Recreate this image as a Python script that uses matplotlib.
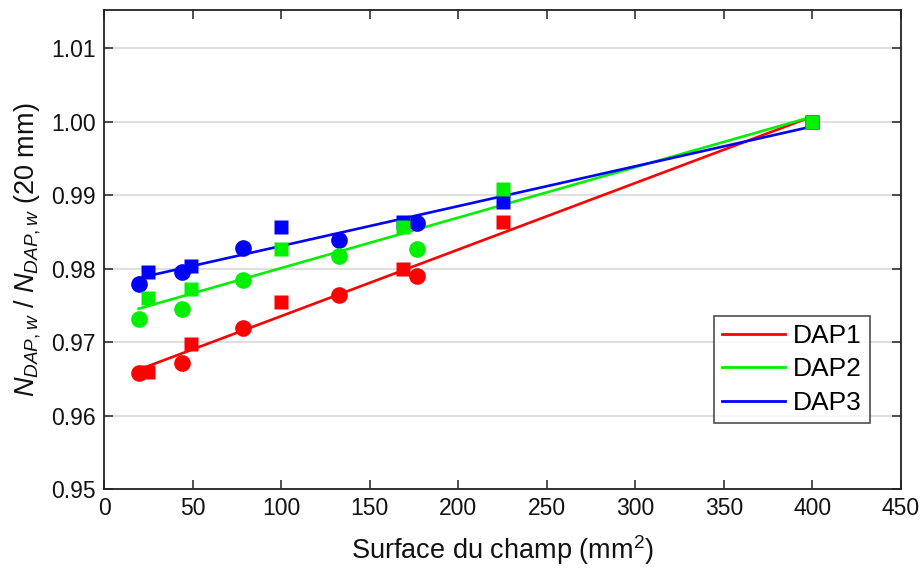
import numpy as np
import matplotlib
matplotlib.use("Agg")
import matplotlib.pyplot as plt

plt.rcParams['font.family'] = ['Liberation Sans', 'DejaVu Sans']
plt.rcParams['mathtext.fontset'] = 'custom'
plt.rcParams['mathtext.rm'] = 'Liberation Sans'
plt.rcParams['mathtext.it'] = 'Liberation Sans:italic'
plt.rcParams['mathtext.bf'] = 'Liberation Sans:bold'

# Field areas (mm^2)
x_circle = [19.6, 44.2, 78.5, 132.7, 176.7]
x_square = [25, 49, 100, 169, 225, 400]

# DAP1
dap1_circle = [0.9658, 0.9672, 0.9719, 0.9764, 0.9790]
dap1_square = [0.9659, 0.9697, 0.9755, 0.9800, 0.9864, 1.0000]
# DAP2
dap2_circle = [0.9731, 0.9745, 0.9784, 0.9817, 0.9827]
dap2_square = [0.9760, 0.9772, 0.9827, 0.9856, 0.9908, 1.0000]
# DAP3
dap3_circle = [0.9779, 0.9795, 0.9828, 0.9839, 0.9862]
dap3_square = [0.9795, 0.9803, 0.9856, 0.9864, 0.9891, 1.0000]

series = {
    'DAP1': (dap1_circle, dap1_square, '#ff0000'),
    'DAP2': (dap2_circle, dap2_square, '#00f000'),
    'DAP3': (dap3_circle, dap3_square, '#0000ff'),
}

xticks = [0, 50, 100, 150, 200, 250, 300, 350, 400, 450]
yticks = [0.95, 0.96, 0.97, 0.98, 0.99, 1.00, 1.01]

fig = plt.figure(figsize=(9.22, 5.69), dpi=100)
ax = fig.add_axes([104/922, 1-489/569, (901-104)/922, (489-10)/569])

ax.set_xlim(0, 450)
ax.set_ylim(0.95, 1.0152)
ax.set_xticks(xticks)
ax.set_yticks(yticks)
ax.set_yticklabels([f"{v:.2f}" for v in yticks])

ax.yaxis.grid(True, color='#d9d9d9', linewidth=1.2, zorder=0)
ax.set_axisbelow(True)

xs_all = np.array(x_circle + x_square)
xfit = np.array([min(xs_all), max(xs_all)])

lines = []
for name in ['DAP1', 'DAP2', 'DAP3']:
    yc, ys, col = series[name]
    ya = np.array(yc + ys)
    p = np.polyfit(xs_all, ya, 1)
    ln, = ax.plot(xfit, np.polyval(p, xfit), color=col, lw=1.9, label=name, zorder=3)
    lines.append(ln)

for name in ['DAP1', 'DAP3', 'DAP2']:
    yc, ys, col = series[name]
    ax.plot(x_circle, yc, 'o', color=col, ms=12, mec='none', zorder=4)
    ax.plot(x_square, ys, 's', color=col, ms=10.5, mec='none', zorder=4)

ax.tick_params(direction='in', top=True, right=True, length=6.5, width=1.1,
               labelsize=16.5, pad=6, colors='#222222', labelcolor='#111111')
for s in ax.spines.values():
    s.set_linewidth(1.3)
    s.set_color('#222222')

ax.set_xlabel(r"Surface du champ (mm$^2$)", fontsize=19.5, labelpad=9, color='#111111')
ax.set_ylabel(r"$N_{DAP,w}$ / $N_{DAP,w}$ (20 mm)", fontsize=19.5, labelpad=6, color='#111111')

leg = ax.legend(handles=lines, loc='upper left', bbox_to_anchor=((714-104)/797, 1-(316-10)/479),
                fontsize=19, frameon=True, fancybox=False, edgecolor='#222222',
                handlelength=2.4, handletextpad=0.3, labelspacing=0.36, borderpad=0.3,
                borderaxespad=0, handleheight=0.7)
leg.get_frame().set_linewidth(1.2)
for l in leg.get_lines():
    l.set_linewidth(2)

fig.savefig('out.png', dpi=100)
